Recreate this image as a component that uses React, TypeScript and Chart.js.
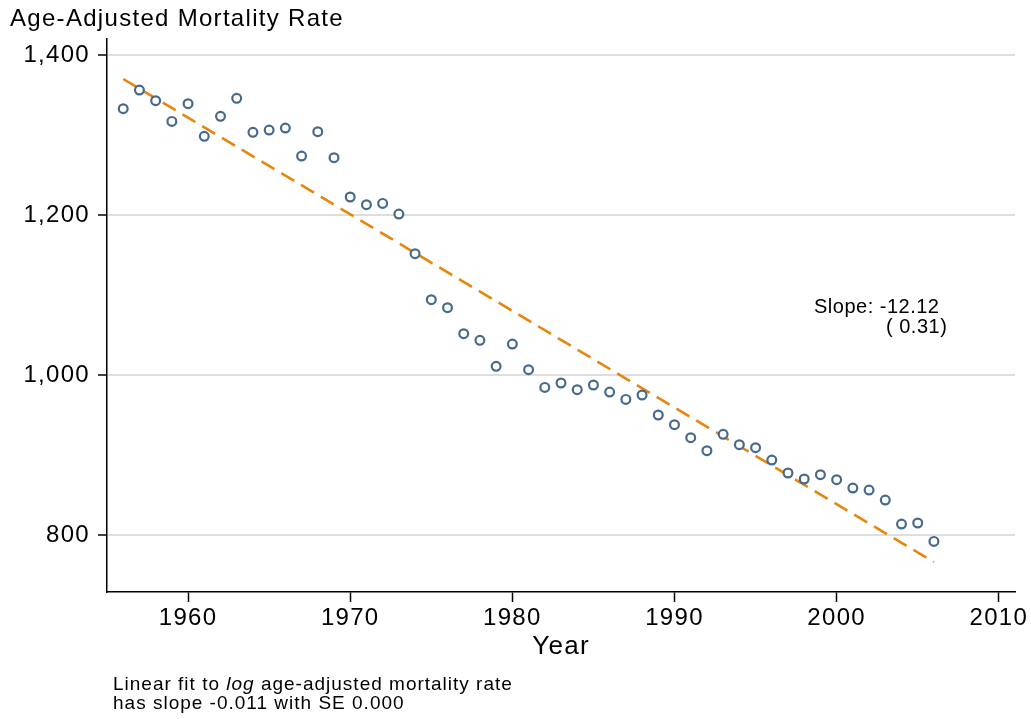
import React, { useEffect, useRef } from "react";
import { Chart, registerables } from "chart.js";

Chart.register(...registerables);

const years = [
  1956, 1957, 1958, 1959, 1960, 1961, 1962, 1963, 1964, 1965, 1966, 1967, 1968,
  1969, 1970, 1971, 1972, 1973, 1974, 1975, 1976, 1977, 1978, 1979, 1980, 1981,
  1982, 1983, 1984, 1985, 1986, 1987, 1988, 1989, 1990, 1991, 1992, 1993, 1994,
  1995, 1996, 1997, 1998, 1999, 2000, 2001, 2002, 2003, 2004, 2005, 2006,
];
const rates = [
  1333.4, 1356.7, 1343.4, 1317.5, 1339.6, 1298.8, 1323.8, 1346.3, 1303.8, 1306.7,
  1309.2, 1274.2, 1304.6, 1272.1, 1223.0, 1213.4, 1215.0, 1201.7, 1152.1, 1094.6,
  1084.6, 1052.1, 1043.8, 1011.3, 1039.2, 1007.1, 985.0, 990.5, 982.1, 988.0,
  979.2, 970.0, 975.5, 950.5, 938.4, 922.1, 905.9, 926.3, 913.4, 909.6,
  894.2, 878.0, 870.5, 875.9, 869.6, 859.2, 856.7, 844.2, 814.2, 815.5, 792.5,
];
const fitYears = [1956, 2006];
const fitRates = [1370.5, 766.6];

const xTicks = [1960, 1970, 1980, 1990, 2000, 2010];
const yTicks = [800, 1000, 1200, 1400];

const titleText = "Age-Adjusted Mortality Rate";
const xTitleText = "Year";
const slopeLines = ["Slope: -12.12", "( 0.31)"];
const noteLine1 = ["Linear fit to ", "log", " age-adjusted mortality rate"];
const noteLine2 = "has slope -0.011 with SE 0.000";

const FONT = "'Liberation Sans', Arial, sans-serif";
const DOT = "#46698c";
const ORANGE = "#e8850c";

const spacingPlugin = {
  id: "spacingPlugin",
  beforeInit(chart: any) {
    chart.ctx.letterSpacing = "1.3px";
  },
  beforeUpdate(chart: any) {
    chart.ctx.letterSpacing = "1.3px";
  },
  beforeDraw(chart: any) {
    chart.ctx.letterSpacing = "1.3px";
  },
};

const textPlugin = {
  id: "textPlugin",
  afterDraw(chart: any) {
    const ctx = chart.ctx;
    ctx.save();
    ctx.fillStyle = "#000";
    ctx.textBaseline = "alphabetic";
    ctx.textAlign = "left";
    // title
    ctx.letterSpacing = "1.3px";
    ctx.font = `24px ${FONT}`;
    ctx.fillText(titleText, 10, 26);
    // slope annotation
    ctx.letterSpacing = "0.5px";
    ctx.font = `20px ${FONT}`;
    ctx.fillText(slopeLines[0], 814, 312.5);
    ctx.fillText(slopeLines[1], 886, 333);
    // note
    ctx.letterSpacing = "1px";
    ctx.font = `19px ${FONT}`;
    let x = 113;
    ctx.fillText(noteLine1[0], x, 690);
    x += ctx.measureText(noteLine1[0]).width;
    ctx.font = `italic 19px ${FONT}`;
    ctx.fillText(noteLine1[1], x, 690);
    x += ctx.measureText(noteLine1[1]).width;
    ctx.font = `19px ${FONT}`;
    ctx.fillText(noteLine1[2], x, 690);
    ctx.fillText(noteLine2, 113, 709);
    ctx.restore();
  },
};

export default function App() {
  const ref = useRef<HTMLCanvasElement | null>(null);
  useEffect(() => {
    if (!ref.current) return;
    const chart = new Chart(ref.current, {
      type: "scatter",
      data: {
        datasets: [
          {
            type: "line",
            data: fitYears.map((y, i) => ({ x: y, y: fitRates[i] })),
            borderColor: ORANGE,
            borderWidth: 2.6,
            borderDash: [15, 8],
            pointRadius: 0,
            fill: false,
            order: 2,
          } as any,
          {
            type: "scatter",
            data: years.map((y, i) => ({ x: y, y: rates[i] })),
            pointStyle: "circle",
            pointRadius: 4.4,
            pointBorderWidth: 2.2,
            pointBorderColor: DOT,
            pointBackgroundColor: "#ffffff",
            order: 1,
          },
        ],
      },
      options: {
        responsive: false,
        animation: false,
        events: [],
        layout: { padding: { top: 39, right: 16, left: 0, bottom: 0 } },
        plugins: {
          legend: { display: false },
          tooltip: { enabled: false },
          title: { display: false },
        },
        scales: {
          x: {
            type: "linear",
            min: 1955,
            max: 2011,
            afterBuildTicks: (s: any) => {
              s.ticks = xTicks.map((v) => ({ value: v }));
            },
            afterFit: (s: any) => {
              s.height = 127;
            },
            grid: {
              drawOnChartArea: false,
              drawTicks: true,
              tickLength: 10,
              tickWidth: 1.5,
              tickColor: "#000",
            },
            border: { display: true, color: "#000", width: 1.5 },
            ticks: {
              color: "#000",
              font: { family: FONT, size: 24 },
              padding: 2,
              maxRotation: 0,
              autoSkip: false,
              callback: (v: any) => String(v),
            },
            title: {
              display: true,
              text: xTitleText,
              color: "#000",
              font: { family: FONT, size: 26 },
              padding: { top: 0, bottom: 57 },
            },
          },
          y: {
            type: "linear",
            min: 729.25,
            max: 1420.5,
            afterBuildTicks: (s: any) => {
              s.ticks = yTicks.map((v) => ({ value: v }));
            },
            afterFit: (s: any) => {
              s.width = 107;
            },
            grid: {
              drawOnChartArea: true,
              color: "#dedede",
              lineWidth: 2,
              drawTicks: true,
              tickLength: 9,
              tickWidth: 1.5,
              tickColor: "#000",
            },
            border: { display: true, color: "#000", width: 1.5 },
            ticks: {
              color: "#000",
              font: { family: FONT, size: 24 },
              padding: 8,
              autoSkip: false,
              callback: (v: any) => Number(v).toLocaleString("en-US"),
            },
          },
        },
      },
      plugins: [spacingPlugin, textPlugin],
    });
    return () => chart.destroy();
  }, []);
  return (
    <div style={{ position: "absolute", left: 0, top: 0, width: 1031, height: 719, background: "#fff" }}>
      <canvas ref={ref} width={1031} height={719} style={{ display: "block" }} />
    </div>
  );
}
